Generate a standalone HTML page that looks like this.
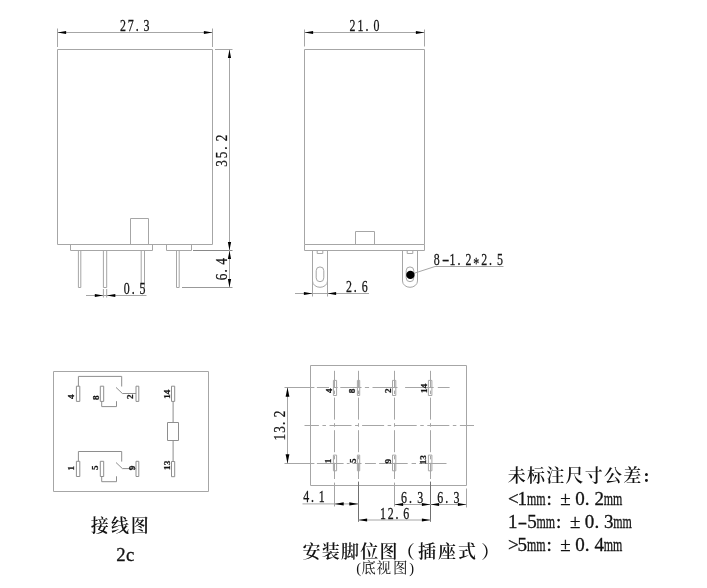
<!DOCTYPE html>
<html lang="zh-CN">
<head>
<meta charset="utf-8">
<title>安装脚位图</title>
<style>
html,body{margin:0;padding:0;background:#fff;}
body{width:707px;height:588px;overflow:hidden;position:relative;}
svg{position:absolute;left:0;top:0;display:block;}
svg text.d{font-family:"Liberation Serif","Noto Serif CJK SC",serif;stroke:#111;stroke-width:0.25px;}
svg text.b{font-family:"Liberation Serif","Noto Serif CJK SC",serif;font-weight:bold;font-size:9.2px;stroke:#111;stroke-width:0.25px;}
svg text.c{font-family:"Liberation Serif","Noto Serif CJK SC",serif;}
svg text.t{stroke:#111;stroke-width:0.3px;}
</style>
</head>
<body>
<svg width="707" height="588" viewBox="0 0 707 588">
<g fill="none" stroke="#a6a6a6" stroke-width="1">
<path d="M57.5 49.5H212.5V244.5H57.5Z" />
<path d="M70.5 244.5L70.5 250.5L152.5 250.5L152.5 244.5" />
<path d="M166.5 244.5L166.5 250.5L191.5 250.5L191.5 244.5" />
<path d="M130.5 244.5L130.5 218.5L148.5 218.5L148.5 244.5" />
<path d="M78.4 250.5L78.4 287.5L80.8 287.5L80.8 250.5" />
<path d="M103.4 250.5L103.4 287.5L106.7 287.5L106.7 250.5" />
<path d="M141.2 250.5L141.2 287.5L144.5 287.5L144.5 250.5" />
<path d="M176.5 250.5L176.5 287.5L179.2 287.5L179.2 250.5" />
<path d="M57.5 28.5L57.5 47" />
<path d="M212.5 28.5L212.5 47" />
<path d="M57.5 32.5L212.5 32.5" />
<path d="M215 49.5L232.5 49.5" />
<path d="M193 250.5L232.5 250.5" stroke="#888"/>
<path d="M182 287.5L232.5 287.5" stroke="#999"/>
<path d="M229.5 49.5L229.5 287.5" />
<path d="M103.4 289L103.4 297.5" />
<path d="M106.7 289L106.7 297.5" />
<path d="M86 295.5L146.5 295.5" />
<path d="M304.5 49.5H424.5V244.5H304.5Z" />
<path d="M304.5 244.5L304.5 250.5L424.5 250.5L424.5 244.5" />
<path d="M355.5 244.5L355.5 231.5L374.5 231.5L374.5 244.5" />
<path d="M312.5 250.5V281A7.5 6.3 0 0 0 327.5 281V250.5"/>
<path d="M317.2 250.5L317.2 253.5L322.8 253.5L322.8 250.5" />
<path d="M316.2 270.7A3.8 3.8 0 0 1 323.8 270.7V277.9A3.8 3.8 0 0 1 316.2 277.9Z"/>
<path d="M402.5 250.5V281A7.5 6.3 0 0 0 417.5 281V250.5"/>
<path d="M407.2 250.5L407.2 253.5L412.8 253.5L412.8 250.5" />
<path d="M406.2 270.7A3.8 3.8 0 0 1 413.8 270.7V277.9A3.8 3.8 0 0 1 406.2 277.9Z"/>
<path d="M304.5 29.5L304.5 46.5" />
<path d="M424.5 29.5L424.5 46.5" />
<path d="M304.5 32.5L424.5 32.5" />
<path d="M312.5 281L312.5 296.5" />
<path d="M327.5 281L327.5 296.5" />
<path d="M295 293.5L369 293.5" />
<path d="M414 273.3L435 266.5L503.5 266.5" />
<path d="M53.5 371.5H208.5V491.5H53.5Z" />
<path d="M76.4 386.2H79.8V401.4H76.4Z" stroke="#8e8e8e"/>
<path d="M100.3 386.2H103.7V401.4H100.3Z" stroke="#8e8e8e"/>
<path d="M136 386.2H138.8V401.4H136Z" stroke="#8e8e8e"/>
<path d="M78.4 386.2L78.4 376.4L121.7 376.4L121.7 386.5" stroke="#8e8e8e"/>
<path d="M101.7 401.4L101.7 406.59999999999997L116.5 406.59999999999997L116.5 401.2" stroke="#8e8e8e"/>
<path d="M116 387.4L122.4 393.5L136 393.5" stroke="#8e8e8e"/>
<path d="M76.4 461.3H79.8V476.5H76.4Z" stroke="#8e8e8e"/>
<path d="M100.3 461.3H103.7V476.5H100.3Z" stroke="#8e8e8e"/>
<path d="M136 461.3H138.8V476.5H136Z" stroke="#8e8e8e"/>
<path d="M78.4 461.3L78.4 451.5L121.7 451.5L121.7 461.6" stroke="#8e8e8e"/>
<path d="M101.7 476.5L101.7 481.7L116.5 481.7L116.5 476.3" stroke="#8e8e8e"/>
<path d="M116 462.5L122.4 468.6L136 468.6" stroke="#8e8e8e"/>
<path d="M171.5 386.2H174.7V401.4H171.5Z" stroke="#8e8e8e"/>
<path d="M171.5 461.5H174.7V476.7H171.5Z" stroke="#8e8e8e"/>
<path d="M173.1 401.4L173.1 422.5" stroke="#8e8e8e"/>
<path d="M173.1 440.5L173.1 461.5" stroke="#8e8e8e"/>
<path d="M167.5 422.5H178.5V440.5H167.5Z" stroke="#8e8e8e"/>
<path d="M310.5 365.5H466.5V485.5H310.5Z" />
<path d="M284.5 387.5H314.4M316.9 387.5H329M333 387.5H337.7M340.3 387.5H361.5M364.9 387.5H369.1M372.5 387.5H397.5M405.1 387.5H433.7M437.8 387.5H449.6"/>
<path d="M284.5 463.5H314.4M316.9 463.5H343.6M346.8 463.5H349.6M352.5 463.5H361.5M365 463.5H375.9M379.1 463.5H407.7M411.6 463.5H416M419.2 463.5H446.5"/>
<path d="M304.5 425.5L474 425.5" stroke-dasharray="22 3.55 3.5 3.55" stroke-dashoffset="7.6"/>
<path d="M334.5 370.8V387.2M334.5 390.6V394.1M334.5 397.6V419.6M334.5 423.2V426.7M334.5 430.2V452.2M334.5 455.8V459.3M334.5 462.8V479"/>
<path d="M358.5 370.8V387.2M358.5 390.6V394.1M358.5 397.6V419.6M358.5 423.2V426.7M358.5 430.2V452.2M358.5 455.8V459.3M358.5 462.8V479"/>
<path d="M394.5 370.8V387.2M394.5 390.6V394.1M394.5 397.6V419.6M394.5 423.2V426.7M394.5 430.2V452.2M394.5 455.8V459.3M394.5 462.8V479"/>
<path d="M430.5 370.8V387.2M430.5 390.6V394.1M430.5 397.6V419.6M430.5 423.2V426.7M430.5 430.2V452.2M430.5 455.8V459.3M430.5 462.8V479"/>
<path d="M334.5 482.6L334.5 506.5" />
<path d="M394.5 482.6L394.5 506.5" />
<path d="M358.5 481.6L358.5 521.8" stroke="#707070"/>
<path d="M430.5 481.6L430.5 521.8" stroke="#707070"/>
<path d="M466.5 488.5L466.5 507.5" />
<path d="M333.4 380.4H336.6V395.5H333.4Z" />
<path d="M333.4 455.1H336.6V470.8H333.4Z" />
<path d="M357.4 380.4H359.7V395.5H357.4Z" />
<path d="M357.4 455.1H359.7V470.8H357.4Z" />
<path d="M392.5 380.4H395.8V395.5H392.5Z" />
<path d="M392.5 455.1H395.8V470.8H392.5Z" />
<path d="M428.4 380.4H431.9V395.5H428.4Z" />
<path d="M428.4 455.1H431.9V470.8H428.4Z" />
<path d="M287.5 387.5L287.5 463.5" />
<path d="M302.5 503.9L358.5 503.9" />
<path d="M394.5 504.5L466.5 504.5" />
<path d="M358.5 520L430.5 520" />
</g>
<g fill="#000" stroke="none">
<path d="M57.5 32.5L66.1 30.9L66.1 34.1Z"/>
<path d="M212.5 32.5L203.9 30.9L203.9 34.1Z"/>
<path d="M229.5 49.5L227.9 58.1L231.1 58.1Z"/>
<path d="M229.5 250.5L227.9 241.9L231.1 241.9Z"/>
<path d="M229.5 250.5L227.9 259.1L231.1 259.1Z"/>
<path d="M229.5 287.5L227.9 278.9L231.1 278.9Z"/>
<path d="M103.4 295.5L94.8 293.9L94.8 297.1Z"/>
<path d="M106.7 295.5L115.3 293.9L115.3 297.1Z"/>
<path d="M304.5 32.5L313.1 30.9L313.1 34.1Z"/>
<path d="M424.5 32.5L415.9 30.9L415.9 34.1Z"/>
<path d="M312.5 293.5L303.9 291.9L303.9 295.1Z"/>
<path d="M327.5 293.5L336.1 291.9L336.1 295.1Z"/>
<path d="M287.5 387.5L285.6 396.7L289.4 396.7Z"/>
<path d="M287.5 463.5L285.6 454.3L289.4 454.3Z"/>
<path d="M334.5 503.9L343.7 502.3L343.7 505.5Z"/>
<path d="M358.5 503.9L349.3 502.3L349.3 505.5Z"/>
<path d="M394.5 504.5L403.1 502.9L403.1 506.1Z"/>
<path d="M430.5 504.5L421.9 502.9L421.9 506.1Z"/>
<path d="M430.5 504.5L439.1 502.9L439.1 506.1Z"/>
<path d="M466.5 504.5L457.9 502.9L457.9 506.1Z"/>
<path d="M358.5 520L367.1 518.4L367.1 521.6Z"/>
<path d="M430.5 520L421.9 518.4L421.9 521.6Z"/>
<circle cx="410.4" cy="274.9" r="4.2"/>
</g>
<g fill="#111" opacity="0.99">
<text class="d" font-size="15.9" transform="translate(119.9 30.6) scale(0.75 1)" x="0.0 10.53 21.07 31.6" y="0">27.3</text>
<text class="d" font-size="15.9" transform="translate(226.6 166.8) rotate(-90) scale(0.83 1)" x="0.0 10.24 20.48 30.72" y="0">35.2</text>
<text class="d" font-size="15.9" transform="translate(226.6 280.2) rotate(-90) scale(0.83 1)" x="0.0 9.34 18.67" y="0">6.4</text>
<text class="d" font-size="15.9" transform="translate(123.8 293.7) scale(0.75 1)" x="0.0 10.47 20.93" y="0">0.5</text>
<text class="d" font-size="15.9" transform="translate(349.6 30.9) scale(0.75 1)" x="0.0 10.67 21.33 32.0" y="0">21.0</text>
<text class="d" font-size="15.9" transform="translate(345.9 291.7) scale(0.75 1)" x="0.0 10.53 21.07" y="0">2.6</text>
<text class="d" font-size="15.9" transform="translate(433.8 264.8) scale(0.75 1)"><tspan x="0.0" y="0">8</tspan><tspan x="10.83" y="0" textLength="9.87" lengthAdjust="spacingAndGlyphs">-</tspan><tspan x="21.07 31.6 42.13 52.67 63.2 73.73 84.27" y="0 0 0 3.7 0 0 0">1.2*2.5</tspan></text>
<text class="b" transform="translate(73.9 399.0) rotate(-90)">4</text>
<text class="b" transform="translate(98.8 400.0) rotate(-90)">8</text>
<text class="b" transform="translate(133.2 399.0) rotate(-90)">2</text>
<text class="b" transform="translate(74.3 470.4) rotate(-90)">1</text>
<text class="b" transform="translate(98.4 470.0) rotate(-90)">5</text>
<text class="b" transform="translate(134.6 470.2) rotate(-90)">9</text>
<text class="b" transform="translate(169.9 398.8) rotate(-90)">14</text>
<text class="b" transform="translate(169.9 469.9) rotate(-90)">13</text>
<text class="d" font-size="15.9" transform="translate(284.9 440.6) rotate(-90) scale(0.83 1)" x="0.0 9.4 18.8 28.19" y="0">13.2</text>
<text class="d" font-size="15.9" transform="translate(303.2 501.7) scale(0.75 1)" x="0.0 10.4 20.8" y="0">4.1</text>
<text class="d" font-size="15.9" transform="translate(401 502.5) scale(0.75 1)" x="0.0 10.8 21.6" y="0">6.3</text>
<text class="d" font-size="15.9" transform="translate(437.2 502.5) scale(0.75 1)" x="0.0 10.8 21.6" y="0">6.3</text>
<text class="d" font-size="15.9" transform="translate(379.9 518.8) scale(0.75 1)" x="0.0 10.4 20.8 31.2" y="0">12.6</text>
<text class="b" transform="translate(331.5 393.1) rotate(-90)">4</text>
<text class="b" transform="translate(354.9 393.2) rotate(-90)">8</text>
<text class="b" transform="translate(390.9 393.0) rotate(-90)">2</text>
<text class="b" transform="translate(426.7 392.9) rotate(-90)">14</text>
<text class="b" transform="translate(330.9 463.3) rotate(-90)">1</text>
<text class="b" transform="translate(355.8 462.9) rotate(-90)">5</text>
<text class="b" transform="translate(390.5 463.4) rotate(-90)">9</text>
<text class="b" transform="translate(425.9 464.3) rotate(-90)">13</text>
</g>
<g fill="#111" opacity="0.99">
<text class="c" font-size="18" font-weight="600" x="90.8 111.1 130.8" y="532.2">接线图</text>
<text class="c t" font-size="18.8" font-weight="400" x="116.2 125.9" y="561">2c</text>
<text class="c" font-size="18" font-weight="600" x="302.6 321.85 341.1 360.35 379.6 396.85 418.1 437.95 457.9 481.25" y="557.7">安装脚位图（插座式）</text>
<text class="c" font-size="14.5" font-weight="400" x="356.2 361.3 376.4 392.9 409.2" y="572.6">(底视图)</text>
<text class="c" font-size="18" font-weight="600" x="507.8 527.03 546.26 565.49 584.72 603.95 623.18 643.41" y="482.2">未标注尺寸公差:</text>
<text class="c t" font-size="19" y="504.8"><tspan x="508.0 517.6">&lt;1</tspan><tspan x="526.9" textLength="18.6" lengthAdjust="spacingAndGlyphs">mm</tspan><tspan x="546.4 555.4 560.3 574.6 575.2 584.8 594.4">: ± 0.2</tspan><tspan x="603.7" textLength="18.6" lengthAdjust="spacingAndGlyphs">mm</tspan></text>
<text class="c t" font-size="19" y="528.2"><tspan x="508.0">1</tspan><tspan x="517.8" textLength="9.4" lengthAdjust="spacingAndGlyphs">-</tspan><tspan x="527.2">5</tspan><tspan x="536.5" textLength="18.6" lengthAdjust="spacingAndGlyphs">mm</tspan><tspan x="556.0 565.0 569.9 584.2 584.8 594.4 604.0">: ± 0.3</tspan><tspan x="613.3" textLength="18.6" lengthAdjust="spacingAndGlyphs">mm</tspan></text>
<text class="c t" font-size="19" y="551.3"><tspan x="508.0 517.6">&gt;5</tspan><tspan x="526.9" textLength="18.6" lengthAdjust="spacingAndGlyphs">mm</tspan><tspan x="546.4 555.4 560.3 574.6 575.2 584.8 594.4">: ± 0.4</tspan><tspan x="603.7" textLength="18.6" lengthAdjust="spacingAndGlyphs">mm</tspan></text>
</g>
</svg>
</body>
</html>
